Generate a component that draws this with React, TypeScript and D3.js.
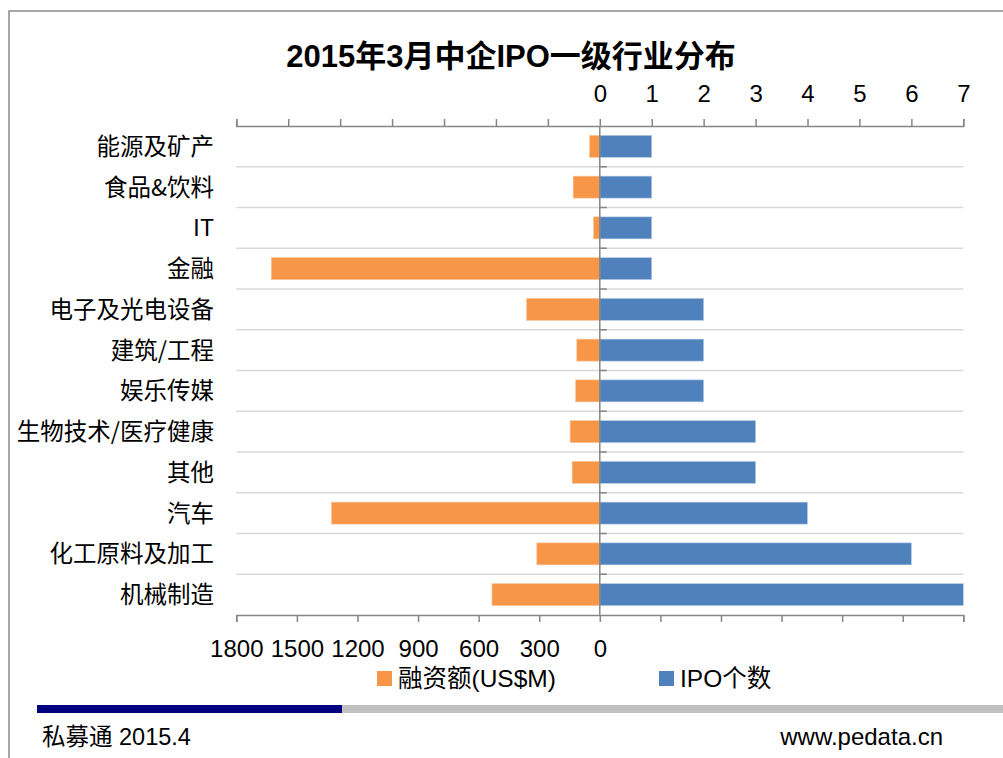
import * as d3 from 'd3';
import React, { useEffect, useRef } from 'react';

const categories = [
  '能源及矿产',
  '食品&饮料',
  'IT',
  '金融',
  '电子及光电设备',
  '建筑/工程',
  '娱乐传媒',
  '生物技术/医疗健康',
  '其他',
  '汽车',
  '化工原料及加工',
  '机械制造',
];
// 融资额 (US$M)
const amounts = [51, 132, 31, 1627, 363, 114, 120, 147, 137, 1329, 312, 534];
// IPO 个数
const counts = [1, 1, 1, 1, 2, 2, 2, 3, 3, 4, 6, 7];

const amountTicks = d3.range(-1800, 1801, 300);
const countTicks = d3.range(-7, 8, 1);

const title = '2015年3月中企IPO一级行业分布';
const legendLabels = ['融资额(US$M)', 'IPO个数'];
const footerLeft = '私募通 2015.4';
const footerRight = 'www.pedata.cn';

const W = 1003;
const H = 758;
const ORANGE = '#F79646';
const BLUE = '#4F81BD';
const AXIS = '#868686';
const LATIN = '"Liberation Sans", "Noto Sans CJK SC", sans-serif';
const CJK = '"Noto Sans CJK SC", "Liberation Sans", sans-serif';

export default function App() {
  const ref = useRef<SVGSVGElement>(null);

  useEffect(() => {
    if (!ref.current) return;
    const svg = d3.select(ref.current);
    svg.selectAll('*').remove();

    const left = 236.3;
    const right = 963.3;
    const top = 126;
    const bottom = 615;

    const y = d3
      .scaleBand<string>()
      .domain(categories)
      .range([top, bottom])
      .paddingInner(0.46)
      .paddingOuter(0.23);
    const xAmt = d3.scaleLinear().domain([1800, -1800]).range([left, right]);
    const xCnt = d3.scaleLinear().domain([-7, 7]).range([left, right]);
    const zero = xCnt(0);
    const step = y.step();

    // frame
    svg
      .append('path')
      .attr('d', `M9,${H} L9,11 L${W},11`)
      .attr('fill', 'none')
      .attr('stroke', '#8c8c8c')
      .attr('stroke-width', 1.5);

    // title
    svg
      .append('text')
      .attr('x', 511)
      .attr('y', 67)
      .attr('text-anchor', 'middle')
      .style('font-family', LATIN)
      .style('font-weight', 'bold')
      .style('font-size', '31px')
      .text(title);

    // gridlines between categories
    const bounds = d3.range(1, categories.length).map(i => top + i * step);
    svg
      .append('g')
      .selectAll('line')
      .data(bounds)
      .enter()
      .append('line')
      .attr('x1', left)
      .attr('x2', right)
      .attr('y1', d => d)
      .attr('y2', d => d)
      .attr('stroke', '#D9D9D9')
      .attr('stroke-width', 1.5);

    // bars
    svg
      .append('g')
      .selectAll('rect')
      .data(categories)
      .enter()
      .append('rect')
      .attr('x', (d, i) => xAmt(amounts[i]))
      .attr('y', d => y(d)!)
      .attr('width', (d, i) => xAmt(0) - xAmt(amounts[i]))
      .attr('height', y.bandwidth())
      .attr('fill', ORANGE)
      .attr('stroke', '#FBC9A3')
      .attr('stroke-width', 0.6);
    svg
      .append('g')
      .selectAll('rect')
      .data(categories)
      .enter()
      .append('rect')
      .attr('x', zero)
      .attr('y', d => y(d)!)
      .attr('width', (d, i) => xCnt(counts[i]) - zero)
      .attr('height', y.bandwidth())
      .attr('fill', BLUE)
      .attr('stroke', '#B9CDE5')
      .attr('stroke-width', 0.6);

    // center category axis
    svg
      .append('line')
      .attr('x1', zero)
      .attr('x2', zero)
      .attr('y1', top)
      .attr('y2', bottom)
      .attr('stroke', AXIS)
      .attr('stroke-width', 1.5);
    svg
      .append('g')
      .selectAll('line')
      .data(bounds)
      .enter()
      .append('line')
      .attr('x1', zero)
      .attr('x2', zero + 7)
      .attr('y1', d => d)
      .attr('y2', d => d)
      .attr('stroke', AXIS)
      .attr('stroke-width', 1.5);

    // category labels
    svg
      .append('g')
      .selectAll('text')
      .data(categories)
      .enter()
      .append('text')
      .attr('x', 214)
      .attr('y', d => y(d)! + y.bandwidth() / 2)
      .attr('dy', '0.36em')
      .attr('text-anchor', 'end')
      .style('font-family', CJK)
      .style('font-size', '23.5px')
      .text(d => d);

    // top axis: IPO count
    const topAxis = svg
      .append('g')
      .attr('transform', `translate(0,${top})`)
      .call(
        d3
          .axisTop(xCnt)
          .tickValues(countTicks)
          .tickFormat(d => (+d >= 0 ? String(d) : ''))
          .tickSize(7)
          .tickSizeOuter(7)
          .tickPadding(17)
      );
    // bottom axis: amount
    const bottomAxis = svg
      .append('g')
      .attr('transform', `translate(0,${bottom})`)
      .call(
        d3
          .axisBottom(xAmt)
          .tickValues(amountTicks)
          .tickFormat(d => (+d >= 0 ? String(d) : ''))
          .tickSize(7)
          .tickSizeOuter(7)
          .tickPadding(18)
      );
    [topAxis, bottomAxis].forEach(a => {
      a.select('.domain').attr('stroke', AXIS).attr('stroke-width', 1.5);
      a.selectAll('.tick line').attr('stroke', AXIS).attr('stroke-width', 1.5);
      a.selectAll('.tick text')
        .attr('fill', '#000')
        .style('font-family', LATIN)
        .style('font-size', '24px');
    });

    // legend
    const legendX = [377, 659];
    const legendColors = [ORANGE, BLUE];
    const lg = svg
      .selectAll('.legend')
      .data(legendLabels)
      .enter()
      .append('g')
      .attr('class', 'legend')
      .attr('transform', (d, i) => `translate(${legendX[i]},671)`);
    lg.append('rect')
      .attr('width', 15)
      .attr('height', 15)
      .attr('fill', (d, i) => legendColors[i]);
    lg.append('text')
      .attr('x', 21)
      .attr('y', 16)
      .style('font-family', LATIN)
      .style('font-size', '24.5px')
      .text(d => d);

    // footer bands
    svg
      .append('rect')
      .attr('x', 342)
      .attr('y', 705)
      .attr('width', W - 342)
      .attr('height', 8)
      .attr('fill', '#C0C0C0');
    svg
      .append('rect')
      .attr('x', 37)
      .attr('y', 705)
      .attr('width', 305)
      .attr('height', 8)
      .attr('fill', '#000080');

    svg
      .append('text')
      .attr('x', 42)
      .attr('y', 745)
      .style('font-family', LATIN)
      .style('font-size', '23.5px')
      .text(footerLeft);
    svg
      .append('text')
      .attr('x', 943)
      .attr('y', 745)
      .attr('text-anchor', 'end')
      .style('font-family', LATIN)
      .style('font-size', '24px')
      .text(footerRight);
  }, []);

  return (
    <svg
      ref={ref}
      width={W}
      height={H}
      style={{ position: 'absolute', left: 0, top: 0, background: '#fff', display: 'block' }}
    />
  );
}
